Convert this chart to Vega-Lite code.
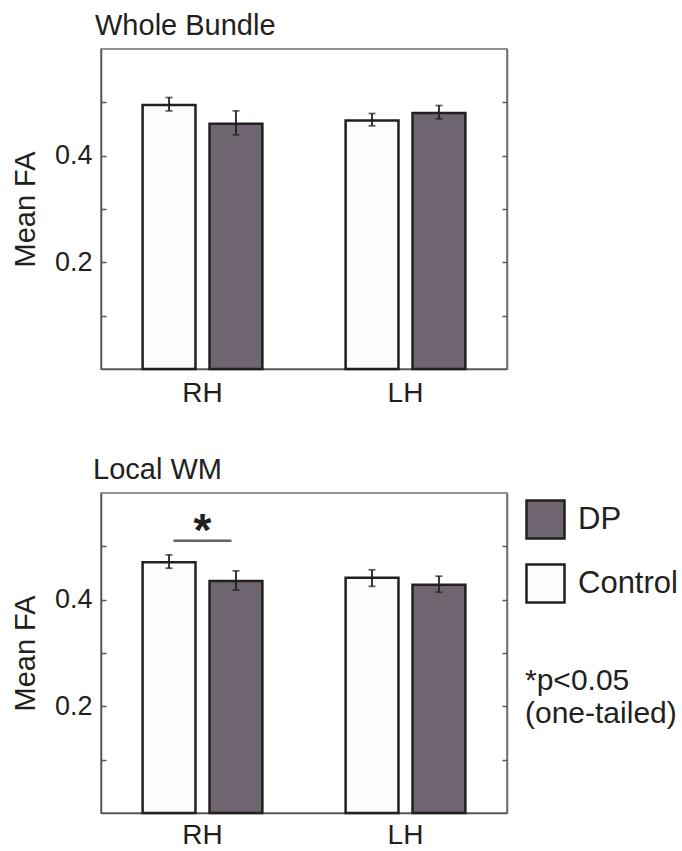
{
  "$schema": "https://vega.github.io/schema/vega-lite/v6.json",
  "padding": {"left": 10, "top": 11, "right": 0, "bottom": 0},
  "background": "white",
  "config": {
    "font": "Liberation Sans",
    "view": {"stroke": "#6e6e6e", "strokeWidth": 1.5},
    "axis": {"domainColor": "#555555", "domainWidth": 1.5, "tickColor": "#555555", "tickWidth": 1.5, "labelColor": "#231f20", "titleColor": "#231f20", "labelFont": "Liberation Sans", "titleFont": "Liberation Sans", "grid": false},
    "title": {"font": "Liberation Sans", "fontSize": 29, "fontWeight": "normal", "color": "#231f20", "anchor": "start", "frame": "group"}
  },
  "datasets": {
    "wb": [
      {"hemi": "RH", "group": "Control", "mean": 0.495, "lo": 0.484, "hi": 0.509},
      {"hemi": "RH", "group": "DP", "mean": 0.460, "lo": 0.439, "hi": 0.484},
      {"hemi": "LH", "group": "Control", "mean": 0.466, "lo": 0.456, "hi": 0.479},
      {"hemi": "LH", "group": "DP", "mean": 0.480, "lo": 0.469, "hi": 0.494}
    ],
    "lw": [
      {"hemi": "RH", "group": "Control", "mean": 0.470, "lo": 0.459, "hi": 0.484},
      {"hemi": "RH", "group": "DP", "mean": 0.435, "lo": 0.418, "hi": 0.454},
      {"hemi": "LH", "group": "Control", "mean": 0.441, "lo": 0.425, "hi": 0.456},
      {"hemi": "LH", "group": "DP", "mean": 0.428, "lo": 0.414, "hi": 0.444}
    ],
    "sig": [
      {"hemi": "RH", "line": 0.5105, "star": 0.50, "label": "*"}
    ]
  },
  "vconcat": [
    {
      "width": 406,
      "height": 320,
      "title": {"text": "Whole Bundle", "dx": -6, "offset": 8},
      "data": {"name": "wb"},
      "layer": [
        {
          "mark": {"type": "bar", "stroke": "#231f20", "strokeWidth": 2.5},
          "encoding": {
            "x": {"field": "hemi", "type": "nominal", "sort": ["RH", "LH"], "title": null, "scale": {"paddingInner": 0.41, "paddingOuter": 0.205}, "axis": {"orient": "bottom", "ticks": false, "labelAngle": 0, "labelFontSize": 28, "labelPadding": 10}},
            "xOffset": {"field": "group", "type": "nominal", "sort": ["Control", "DP"], "scale": {"paddingInner": 0.21, "paddingOuter": 0}},
            "y": {"field": "mean", "type": "quantitative", "scale": {"domain": [0, 0.6], "nice": false}, "axis": {"orient": "left", "title": "Mean FA", "titleFontSize": 29, "titleFontWeight": "normal", "titlePadding": 14, "values": [0.1, 0.2, 0.3, 0.4, 0.5], "labelExpr": "datum.value == 0.2 || datum.value == 0.4 ? format(datum.value, '.1f') : ''", "labelFontSize": 27, "tickSize": -5, "labelPadding": 14}},
            "color": {"field": "group", "type": "nominal", "scale": {"domain": ["DP", "Control"], "range": ["#6f6571", "#fcfcfc"]}, "legend": {"orient": "none", "legendX": 424, "legendY": 450, "title": ["*p<0.05", "(one-tailed)"], "titleOrient": "bottom", "titleAnchor": "start", "titleFontSize": 30, "titleFontWeight": "normal", "titleColor": "#231f20", "titlePadding": 58, "titleLineHeight": 33, "titleLimit": 400, "labelFontSize": 31, "labelColor": "#231f20", "labelOffset": 12, "labelLimit": 400, "symbolType": "square", "symbolSize": 1444, "symbolStrokeColor": "#231f20", "symbolStrokeWidth": 2.5, "symbolOpacity": 1, "rowPadding": 15}}
          }
        },
        {
          "mark": {"type": "rule", "color": "#231f20", "strokeWidth": 1.8},
          "encoding": {
            "x": {"field": "hemi", "type": "nominal", "sort": ["RH", "LH"], "title": null},
            "xOffset": {"field": "group", "type": "nominal", "sort": ["Control", "DP"]},
            "y": {"field": "lo", "type": "quantitative", "scale": {"domain": [0, 0.6], "nice": false}, "axis": {"orient": "right", "labels": false, "title": null, "values": [0.1, 0.2, 0.3, 0.4, 0.5], "tickSize": -5, "domainColor": "#6e6e6e"}},
            "y2": {"field": "hi"}
          }
        },
        {
          "mark": {"type": "tick", "color": "#231f20", "size": 7, "thickness": 1.8},
          "encoding": {
            "x": {"field": "hemi", "type": "nominal", "sort": ["RH", "LH"], "title": null},
            "xOffset": {"field": "group", "type": "nominal", "sort": ["Control", "DP"]},
            "y": {"field": "lo", "type": "quantitative", "scale": {"domain": [0, 0.6], "nice": false}, "axis": null}
          }
        },
        {
          "mark": {"type": "tick", "color": "#231f20", "size": 7, "thickness": 1.8},
          "encoding": {
            "x": {"field": "hemi", "type": "nominal", "sort": ["RH", "LH"], "title": null},
            "xOffset": {"field": "group", "type": "nominal", "sort": ["Control", "DP"]},
            "y": {"field": "hi", "type": "quantitative", "scale": {"domain": [0, 0.6], "nice": false}, "axis": null}
          }
        }
      ],
      "resolve": {"axis": {"y": "independent"}}
    },
    {
      "width": 406,
      "height": 320,
      "title": {"text": "Local WM", "dx": -8, "offset": 8},
      "data": {"name": "lw"},
      "layer": [
        {
          "mark": {"type": "bar", "stroke": "#231f20", "strokeWidth": 2.5},
          "encoding": {
            "x": {"field": "hemi", "type": "nominal", "sort": ["RH", "LH"], "title": null, "scale": {"paddingInner": 0.41, "paddingOuter": 0.205}, "axis": {"orient": "bottom", "ticks": false, "labelAngle": 0, "labelFontSize": 28, "labelPadding": 8}},
            "xOffset": {"field": "group", "type": "nominal", "sort": ["Control", "DP"], "scale": {"paddingInner": 0.21, "paddingOuter": 0}},
            "y": {"field": "mean", "type": "quantitative", "scale": {"domain": [0, 0.6], "nice": false}, "axis": {"orient": "left", "title": "Mean FA", "titleFontSize": 29, "titleFontWeight": "normal", "titlePadding": 14, "values": [0.1, 0.2, 0.3, 0.4, 0.5], "labelExpr": "datum.value == 0.2 || datum.value == 0.4 ? format(datum.value, '.1f') : ''", "labelFontSize": 27, "tickSize": -5, "labelPadding": 14}},
            "color": {"field": "group", "type": "nominal", "scale": {"domain": ["DP", "Control"], "range": ["#6f6571", "#fcfcfc"]}, "legend": {"orient": "none", "legendX": 424, "legendY": 450, "title": ["*p<0.05", "(one-tailed)"], "titleOrient": "bottom", "titleAnchor": "start", "titleFontSize": 30, "titleFontWeight": "normal", "titleColor": "#231f20", "titlePadding": 58, "titleLineHeight": 33, "titleLimit": 400, "labelFontSize": 31, "labelColor": "#231f20", "labelOffset": 12, "labelLimit": 400, "symbolType": "square", "symbolSize": 1444, "symbolStrokeColor": "#231f20", "symbolStrokeWidth": 2.5, "symbolOpacity": 1, "rowPadding": 15}}
          }
        },
        {
          "mark": {"type": "rule", "color": "#231f20", "strokeWidth": 1.8},
          "encoding": {
            "x": {"field": "hemi", "type": "nominal", "sort": ["RH", "LH"], "title": null},
            "xOffset": {"field": "group", "type": "nominal", "sort": ["Control", "DP"]},
            "y": {"field": "lo", "type": "quantitative", "scale": {"domain": [0, 0.6], "nice": false}, "axis": {"orient": "right", "labels": false, "title": null, "values": [0.1, 0.2, 0.3, 0.4, 0.5], "tickSize": -5, "domainColor": "#6e6e6e"}},
            "y2": {"field": "hi"}
          }
        },
        {
          "mark": {"type": "tick", "color": "#231f20", "size": 7, "thickness": 1.8},
          "encoding": {
            "x": {"field": "hemi", "type": "nominal", "sort": ["RH", "LH"], "title": null},
            "xOffset": {"field": "group", "type": "nominal", "sort": ["Control", "DP"]},
            "y": {"field": "lo", "type": "quantitative", "scale": {"domain": [0, 0.6], "nice": false}, "axis": null}
          }
        },
        {
          "mark": {"type": "tick", "color": "#231f20", "size": 7, "thickness": 1.8},
          "encoding": {
            "x": {"field": "hemi", "type": "nominal", "sort": ["RH", "LH"], "title": null},
            "xOffset": {"field": "group", "type": "nominal", "sort": ["Control", "DP"]},
            "y": {"field": "hi", "type": "quantitative", "scale": {"domain": [0, 0.6], "nice": false}, "axis": null}
          }
        },
        {
          "data": {"name": "sig"},
          "mark": {"type": "tick", "color": "#231f20", "size": 58, "thickness": 2.5},
          "encoding": {
            "x": {"field": "hemi", "type": "nominal", "sort": ["RH", "LH"], "title": null},
            "y": {"field": "line", "type": "quantitative", "scale": {"domain": [0, 0.6], "nice": false}, "axis": null}
          }
        },
        {
          "data": {"name": "sig"},
          "mark": {"type": "text", "color": "#231f20", "fontSize": 46, "fontWeight": "bold", "baseline": "alphabetic", "font": "Liberation Sans"},
          "encoding": {
            "x": {"field": "hemi", "type": "nominal", "sort": ["RH", "LH"], "title": null},
            "y": {"field": "star", "type": "quantitative", "scale": {"domain": [0, 0.6], "nice": false}, "axis": null},
            "text": {"field": "label"}
          }
        }
      ],
      "resolve": {"axis": {"y": "independent"}}
    }
  ],
  "spacing": 124,
  "bounds": "flush",
  "resolve": {"scale": {"color": "shared"}, "legend": {"color": "shared"}}
}
